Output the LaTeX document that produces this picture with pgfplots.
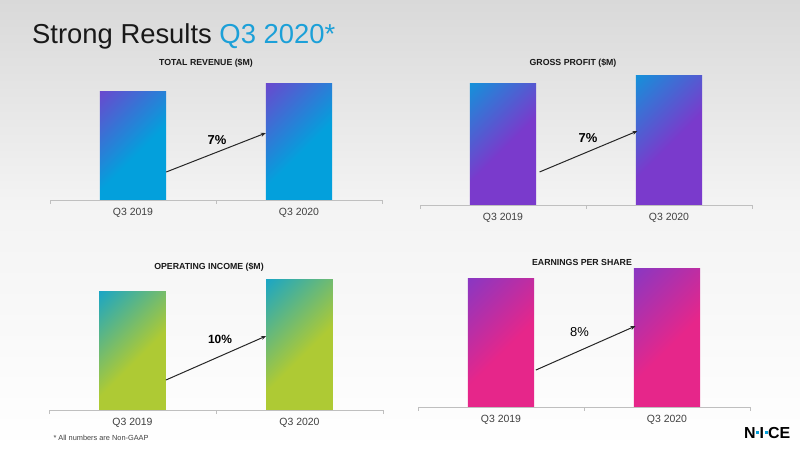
\documentclass[border=0pt]{standalone}
\usepackage{pgfplots}
\pgfplotsset{compat=1.18}
\usetikzlibrary{arrows.meta}
\usepackage{fontspec}
\setmainfont{Liberation Sans}
\definecolor{nicepurple}{HTML}{7A3ACC}
\definecolor{nicecyan}{HTML}{03A0DC}
\definecolor{nicegreen}{HTML}{AECA34}
\definecolor{nicepink}{HTML}{E6268A}
\definecolor{titleblue}{HTML}{1CA0D8}
\definecolor{axisgray}{HTML}{BFBFBF}
\definecolor{labelgray}{HTML}{404040}
\definecolor{bgtop}{HTML}{D9D9D9}
\definecolor{bgmid}{HTML}{F3F3F3}
\pgfdeclareverticalshading{revshade}{100bp}{color(0bp)=(nicecyan); color(45bp)=(nicecyan); color(92bp)=(nicepurple); color(100bp)=(nicepurple)}
\pgfdeclareverticalshading{gpshade}{100bp}{color(0bp)=(nicepurple); color(48bp)=(nicepurple); color(92bp)=(nicecyan); color(100bp)=(nicecyan)}
\pgfdeclareverticalshading{oishade}{100bp}{color(0bp)=(nicegreen); color(45bp)=(nicegreen); color(92bp)=(nicecyan); color(100bp)=(nicecyan)}
\pgfdeclareverticalshading{epsshade}{100bp}{color(0bp)=(nicepink); color(46bp)=(nicepink); color(92bp)=(nicepurple); color(100bp)=(nicepurple)}
\pgfplotsset{panel/.style={
  scale only axis, width=332bp, height=140bp,
  xmin=-0.5, xmax=1.5, ymin=0,
  axis y line=none, axis x line*=bottom,
  x axis line style={axisgray, line width=0.8bp},
  xtick={0,1}, xticklabels={Q3 2019, Q3 2020},
  major tick length=0pt,
  extra x ticks={-0.5,0.5,1.5}, extra x tick labels={},
  extra x tick style={major tick length=4bp, tick align=outside, tick style={axisgray, line width=0.8bp}},
  xticklabel style={font=\fontsize{10.5}{12}\selectfont, text=labelgray, anchor=base, yshift=-15.5bp},
  bar width=0.4, bar shift=0pt,
  clip=false, anchor=south west,
}}
\tikzset{growth/.style={-{Stealth[length=5bp,width=4bp]}, line width=1bp, black!85},
  ptitle/.style={font=\fontsize{8.8}{10}\selectfont\bfseries, text=black!90}}
\begin{document}
\begin{tikzpicture}
\useasboundingbox (0bp,0bp) rectangle (800bp,450bp);
\fill[white] (0bp,0bp) rectangle (800bp,450bp);
\shade[top color=bgtop, bottom color=bgmid] (0bp,250bp) rectangle (800bp,450bp);
\shade[top color=bgmid, bottom color=white] (0bp,0bp) rectangle (800bp,250.5bp);
% title
\node[anchor=base west, inner sep=0pt] at (32bp,406bp) {\fontsize{27.5}{30}\selectfont\color{black!90}Strong Results \textcolor{titleblue}{Q3 2020*}};
% panel titles
\node[ptitle] at (206bp,387bp) {TOTAL REVENUE (\$M)};
\node[ptitle] at (573bp,387bp) {GROSS PROFIT (\$M)};
\node[ptitle] at (209bp,183bp) {OPERATING INCOME (\$M)};
\node[ptitle] at (582bp,188bp) {EARNINGS PER SHARE};
% Total revenue
\begin{axis}[panel, at={(50bp,250bp)}, ymax=494.7]
\addplot[ybar, draw=none, shading=revshade, shading angle=45] coordinates {(0,384.2)};
\addplot[ybar, draw=none, shading=revshade, shading angle=45] coordinates {(1,411.2)};
\draw[growth] (axis cs:0.2,98.9) -- (axis cs:0.8,236.7);
\node[font=\fontsize{13}{14}\selectfont\bfseries] at (axis cs:0.506,212) {7\%};
\end{axis}
% Gross profit
\begin{axis}[panel, at={(420bp,245bp)}, ymax=323.3]
\addplot[ybar, draw=none, shading=gpshade, shading angle=45] coordinates {(0,279.8)};
\addplot[ybar, draw=none, shading=gpshade, shading angle=45] coordinates {(1,299.8)};
\draw[growth] (axis cs:0.22,76.2) -- (axis cs:0.81,170.9);
\node[font=\fontsize{13}{14}\selectfont\bfseries] at (axis cs:0.512,153.6) {7\%};
\end{axis}
% Operating income
\begin{axis}[panel, at={(49bp,40bp)}, width=334bp, ymax=129.4]
\addplot[ybar, draw=none, shading=oishade, shading angle=45] coordinates {(0,109.5)};
\addplot[ybar, draw=none, shading=oishade, shading angle=45] coordinates {(1,120.5)};
\draw[growth] (axis cs:0.2,27.7) -- (axis cs:0.8,68.4);
\node[font=\fontsize{12}{14}\selectfont\bfseries] at (axis cs:0.524,65.2) {10\%};
\end{axis}
% EPS
\begin{axis}[panel, at={(418bp,43bp)}, ymax=1.527]
\addplot[ybar, draw=none, shading=epsshade, shading angle=45] coordinates {(0,1.40)};
\addplot[ybar, draw=none, shading=epsshade, shading angle=45] coordinates {(1,1.51)};
\draw[growth] (axis cs:0.21,0.403) -- (axis cs:0.81,0.883);
\node[font=\fontsize{13}{14}\selectfont] at (axis cs:0.473,0.823) {8\%};
\end{axis}
% footnote
\node[anchor=west, font=\fontsize{7.4}{8}\selectfont, text=labelgray] at (50bp,12bp) {* All numbers are Non-GAAP};
% logo
\node[anchor=base west, inner sep=0pt] at (744bp,12bp) {\fontsize{16}{16}\selectfont\bfseries N\kern0.6bp\raisebox{4.4bp}{\textcolor{nicecyan}{\rule{2.8bp}{2.8bp}}}\kern0.6bp I\kern0.6bp\raisebox{4.4bp}{\textcolor{nicecyan}{\rule{2.8bp}{2.8bp}}}\kern0.6bp CE};
\end{tikzpicture}
\end{document}
